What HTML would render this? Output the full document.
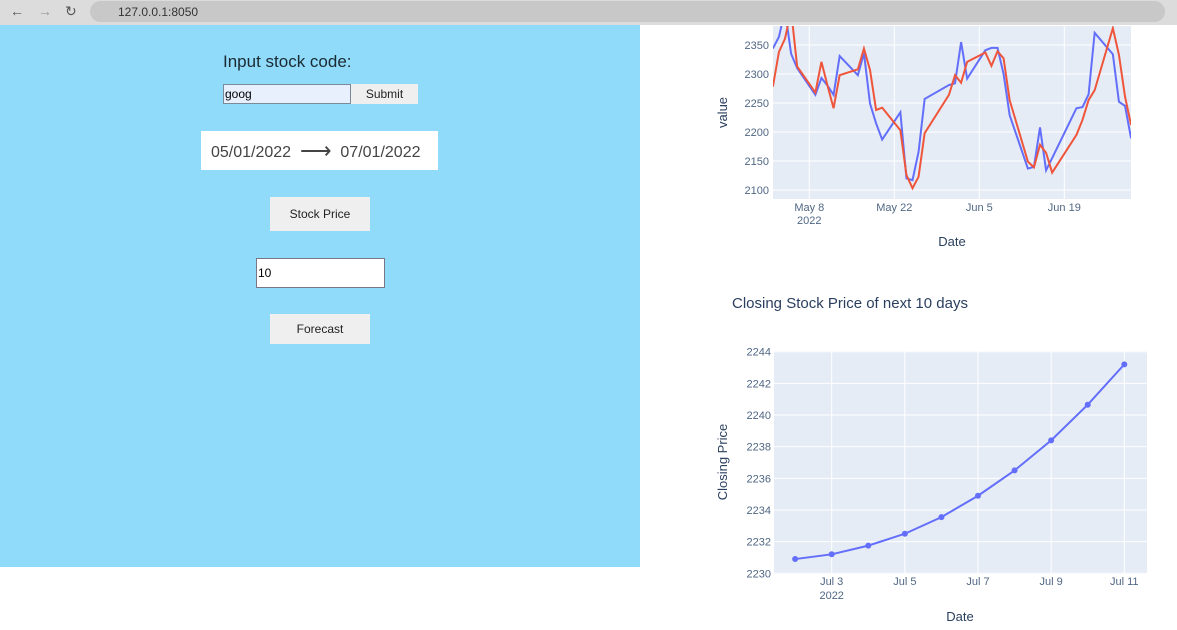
<!DOCTYPE html>
<html><head><meta charset="utf-8">
<style>
body{margin:0;width:1177px;height:630px;overflow:hidden;background:#fff;font-family:"Liberation Sans",sans-serif;position:relative}
.a{position:absolute;box-sizing:border-box}
.btn{background:#efefef;font-size:12px;color:#222;display:flex;align-items:center;justify-content:center}
</style></head><body>
<div class="a" style="left:0;top:0;width:1177px;height:25px;background:#dcdcdc"></div>
<div class="a" style="left:10px;top:3px;font-size:14px;color:#555">←</div>
<div class="a" style="left:38px;top:3px;font-size:14px;color:#999">→</div>
<div class="a" style="left:65px;top:3px;font-size:14px;color:#555">↻</div>
<div class="a" style="left:90px;top:1px;width:1075px;height:21px;background:#c8c8c8;border-radius:11px;font-size:12px;color:#333;padding:4px 0 0 28px">127.0.0.1:8050</div>
<div class="a" style="left:0;top:25px;width:640px;height:542px;background:#90dbf9"></div>
<div class="a" style="left:223px;top:52px;font-size:17px;color:#1a2a33">Input stock code:</div>
<div class="a" style="left:223px;top:84px;width:128px;height:20px;background:#e8f0fe;border:1px solid #7a8a99;font-size:12px;padding:2px 1px">goog</div>
<div class="a btn" style="left:351px;top:84px;width:67px;height:20px">Submit</div>
<div class="a" style="left:201px;top:131px;width:237px;height:39px;background:#fff;font-size:16px;color:#444;padding:11px 0 0 10px;white-space:pre">05/01/2022  <span style="font-size:22px;line-height:16px;position:relative;top:1px">⟶</span>  07/01/2022</div>
<div class="a btn" style="left:270px;top:197px;width:100px;height:34px">Stock Price</div>
<div class="a" style="left:256px;top:258px;width:129px;height:30px;background:#fff;border:1px solid #778;font-size:12px;padding:7px 1px">10</div>
<div class="a btn" style="left:270px;top:314px;width:100px;height:30px">Forecast</div>
<div class="a" style="left:732px;top:295px;font-size:15px;color:#2a3f5f">Closing Stock Price of next 10 days</div>
<svg class="a" style="left:0;top:0" width="1177" height="630" font-family="Liberation Sans, sans-serif" font-size="11" fill="#506784">
<g id="c1"></g>
<g id="c2"></g>
</svg>
<script>
const NS='http://www.w3.org/2000/svg';
const dates1=['2022-05-02','2022-05-03','2022-05-04','2022-05-05','2022-05-06','2022-05-09','2022-05-10','2022-05-11','2022-05-12','2022-05-13','2022-05-16','2022-05-17','2022-05-18','2022-05-19','2022-05-20','2022-05-23','2022-05-24','2022-05-25','2022-05-26','2022-05-27','2022-05-31','2022-06-01','2022-06-02','2022-06-03','2022-06-06','2022-06-07','2022-06-08','2022-06-09','2022-06-10','2022-06-13','2022-06-14','2022-06-15','2022-06-16','2022-06-17','2022-06-21','2022-06-22','2022-06-23','2022-06-24','2022-06-27','2022-06-28','2022-06-29','2022-06-30'];
const blueVals=[2344,2364,2410,2335,2310,2264,2293,2280,2264,2331,2298,2336,2249,2215,2187,2234,2120,2117,2166,2257,2281,2284,2355,2292,2341,2345,2345,2300,2229,2137,2140,2208,2134,2155,2241,2243,2265,2371,2334,2252,2245,2189];
const redVals=[2278,2338,2361,2410,2313,2268,2321,2280,2241,2298,2308,2344,2307,2238,2242,2203,2126,2103,2123,2198,2264,2298,2285,2321,2337,2314,2339,2327,2255,2149,2139,2178,2164,2130,2195,2221,2255,2272,2379,2333,2261,2212];
const yTicks1=[2100,2150,2200,2250,2300,2350];
const xTicks1=['2022-05-08','2022-05-22','2022-06-05','2022-06-19'];
const xTickLabels1=['May 8','May 22','Jun 5','Jun 19'];
const dates2=['2022-07-02','2022-07-03','2022-07-04','2022-07-05','2022-07-06','2022-07-07','2022-07-08','2022-07-09','2022-07-10','2022-07-11'];
const forecastVals=[2230.9,2231.2,2231.75,2232.5,2233.55,2234.9,2236.5,2238.4,2240.65,2243.2];
const yTicks2=[2230,2232,2234,2236,2238,2240,2242,2244];
const xTicks2=['2022-07-03','2022-07-05','2022-07-07','2022-07-09','2022-07-11'];
const xTickLabels2=['Jul 3','Jul 5','Jul 7','Jul 9','Jul 11'];

function el(p,tag,attrs,text){const e=document.createElementNS(NS,tag);for(const k in attrs)e.setAttribute(k,attrs[k]);if(text!=null)e.textContent=text;p.appendChild(e);return e;}
const day=d=>Date.parse(d)/864e5;

(function(){
 const g=document.getElementById('c1');
 const L=773,R=1131,T=26,B=199;
 const d0=day('2022-05-08'),px=85/14;
 const X=d=>809.3+(day(d)-d0)*px;
 const Y=v=>190-(v-2100)*(145/250);
 const bg=el(g,'rect',{x:L,y:T,width:R-L,height:B-T,fill:'#e5ecf6'});
 
 
 yTicks1.forEach(v=>{
  const l=el(g,'line',{x1:L,x2:R,y1:Y(v),y2:Y(v),stroke:'#fff','stroke-width':1});
  
  
  const t=el(g,'text',{x:L-4,y:Y(v)+4,'text-anchor':'end'},v);
  
  
 });
 xTicks1.forEach((d,i)=>{
  const l=el(g,'line',{x1:X(d),x2:X(d),y1:T,y2:B,stroke:'#fff','stroke-width':1});
  
  
  const t=el(g,'text',{x:X(d),y:B+12,'text-anchor':'middle'},xTickLabels1[i]);
  
  
 });
 const yr=el(g,'text',{x:X(xTicks1[0]),y:B+25,'text-anchor':'middle'},'2022');
 
 
 const cp=el(g,'clipPath',{id:'cl1'});el(cp,'rect',{x:L,y:T,width:R-L,height:B-T});
 [[blueVals,'#636efa','actual-line'],[redVals,'#ef553b','predicted-line']].forEach(([vals,c,n])=>{
  const p=el(g,'polyline',{points:vals.map((v,i)=>X(dates1[i])+','+Y(v)).join(' '),fill:'none',stroke:c,'stroke-width':2,'clip-path':'url(#cl1)'});
  
  
 });
 const xt=el(g,'text',{x:(L+R)/2,y:246,'text-anchor':'middle','font-size':13,fill:'#2a3f5f'},'Date');
 
 
 const yt=el(g,'text',{x:727,y:(T+B)/2,'text-anchor':'middle','font-size':13,fill:'#2a3f5f',transform:'rotate(-90 727 '+(T+B)/2+')'},'value');
 
 
})();

(function(){
 const g=document.getElementById('c2');
 const L=774,R=1147,T=351,B=574;
 const d0=day('2022-07-03'),px=(1124.3-831.7)/8;
 const X=d=>831.7+(day(d)-d0)*px;
 const Y=v=>573.3-(v-2230)*(221.6/14);
 const bg=el(g,'rect',{x:L,y:T,width:R-L,height:B-T,fill:'#e5ecf6'});
 
 
 yTicks2.forEach(v=>{
  const l=el(g,'line',{x1:L,x2:R,y1:Y(v),y2:Y(v),stroke:'#fff','stroke-width':1});
  
  
  const t=el(g,'text',{x:L-3,y:Y(v)+4,'text-anchor':'end'},v);
  
  
 });
 xTicks2.forEach((d,i)=>{
  const l=el(g,'line',{x1:X(d),x2:X(d),y1:T,y2:B,stroke:'#fff','stroke-width':1});
  
  
  const t=el(g,'text',{x:X(d),y:B+11,'text-anchor':'middle'},xTickLabels2[i]);
  
  
 });
 const yr=el(g,'text',{x:X(xTicks2[0]),y:B+25,'text-anchor':'middle'},'2022');
 
 
 const p=el(g,'polyline',{points:forecastVals.map((v,i)=>X(dates2[i])+','+Y(v)).join(' '),fill:'none',stroke:'#636efa','stroke-width':2});
 
 
 forecastVals.forEach((v,i)=>{
  const c=el(g,'circle',{cx:X(dates2[i]),cy:Y(v),r:3,fill:'#636efa'});
  
  
 });
 const xt=el(g,'text',{x:960,y:621,'text-anchor':'middle','font-size':13,fill:'#2a3f5f'},'Date');
 
 
 const yt=el(g,'text',{x:727,y:462,'text-anchor':'middle','font-size':13,fill:'#2a3f5f',transform:'rotate(-90 727 462)'},'Closing Price');
 
 
})();
</script>
</body></html>
